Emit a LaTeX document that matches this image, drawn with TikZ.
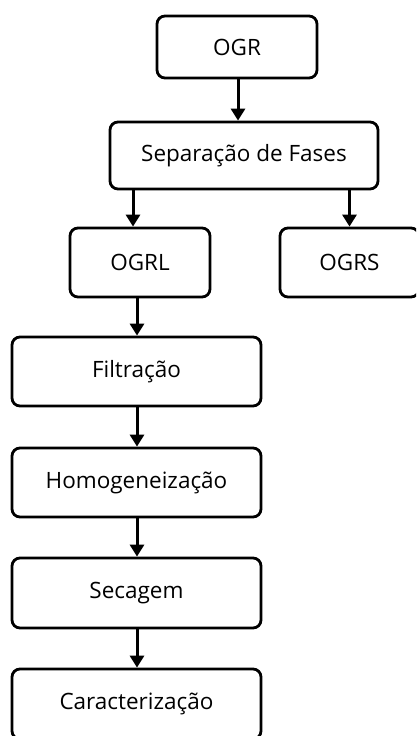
\documentclass[tikz,border=0pt]{standalone}
\usepackage{fontspec}
\setmainfont{Open Sans}
\usetikzlibrary{arrows.meta}
\begin{document}
\begin{tikzpicture}[x=1pt,y=-1pt,
  box/.style={draw=black, line width=2.8pt, rounded corners=8pt, fill=white,
    align=center, inner sep=0pt, font=\fontsize{22.5}{26}\selectfont},
  arr/.style={line width=3pt, -{Triangle[width=14pt,length=12pt]}}]
\useasboundingbox (0,0) rectangle (416,736);
\clip (0,0) rectangle (416,736);
\fill[white] (0,0) rectangle (416,736);
\node[box, minimum width=160pt, minimum height=62pt] (ogr) at (237,47) {OGR};
\node[box, minimum width=268pt, minimum height=67pt] (sep) at (244,155.5) {Separação de Fases};
\node[box, minimum width=140pt, minimum height=69pt] (ogrl) at (140,262.5) {OGRL};
\node[box, minimum width=139pt, minimum height=69pt] (ogrs) at (349.5,262.5) {OGRS};
\node[box, minimum width=249pt, minimum height=69pt] (filt) at (136.5,371.5) {Filtração};
\node[box, minimum width=249pt, minimum height=69pt] (homo) at (136.5,482.5) {Homogeneização};
\node[box, minimum width=249pt, minimum height=70pt] (seca) at (136.5,593) {Secagem};
\node[box, minimum width=249pt, minimum height=70pt] (cara) at (136.5,704) {Caracterização};
\draw[arr] ([xshift=1pt]ogr.south) -- ([xshift=1pt]ogr.south |- sep.north);
\draw[arr] ([xshift=-7pt]ogrl.north |- sep.south) -- ([xshift=-7pt]ogrl.north);
\draw[arr] (ogrs.north |- sep.south) -- (ogrs.north);
\draw[arr] ([xshift=-3pt]ogrl.south) -- ([xshift=-3pt]ogrl.south |- filt.north);
\draw[arr] ([xshift=0.5pt]filt.south) -- ([xshift=0.5pt]homo.north);
\draw[arr] ([xshift=0.5pt]homo.south) -- ([xshift=0.5pt]seca.north);
\draw[arr] ([xshift=0.5pt]seca.south) -- ([xshift=0.5pt]cara.north);
\end{tikzpicture}
\end{document}
